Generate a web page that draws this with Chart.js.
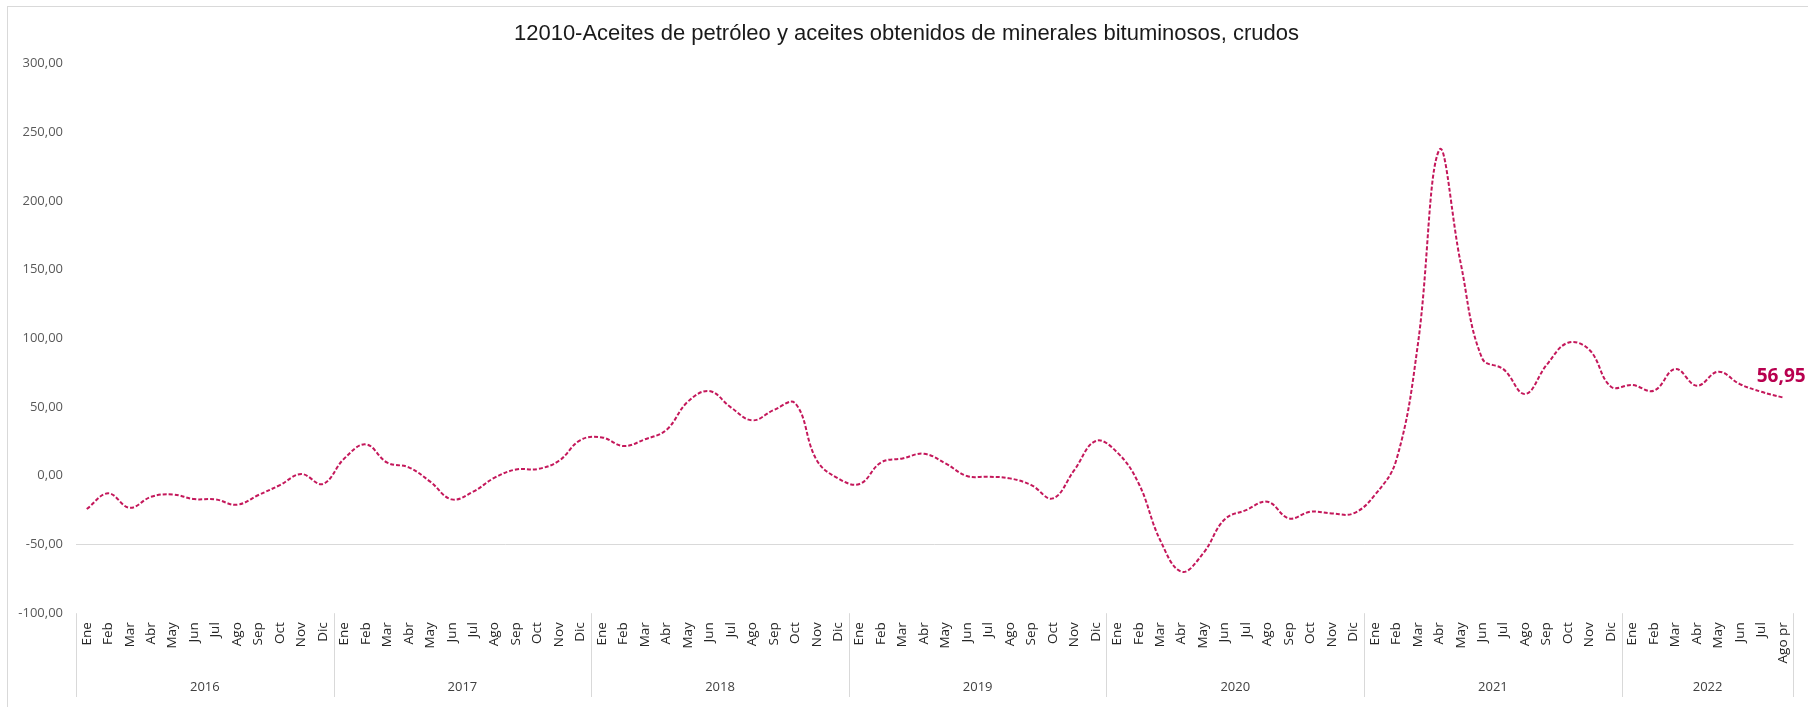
<!DOCTYPE html>
<html>
<head>
<meta charset="utf-8">
<script src="https://cdn.jsdelivr.net/npm/chart.js@4.4.1/dist/chart.umd.min.js"></script>
<style>
  html, body { margin: 0; padding: 0; background: #fff; }
  canvas { display: block; }
</style>
</head>
<body>
<canvas id="myChart" width="1808" height="707"></canvas>
<script>
// data
const months = ["Ene", "Feb", "Mar", "Abr", "May", "Jun", "Jul", "Ago", "Sep", "Oct", "Nov", "Dic"];
const years = ["2016", "2017", "2018", "2019", "2020", "2021", "2022"];
const monthsPerYear = [12, 12, 12, 12, 12, 12, 8];
const lastLabel = "Ago pr";

const values = [
    -24.2, -12.8, -23.3, -15.3, -13.6, -17.0, -17.2, -21.1, -14.0, -6.8, 1.2, -6.0,
    12.6, 22.8, 9.5, 6.1, -4.3, -17.2, -11.6, -1.4, 4.6, 4.9, 10.9, 26.0,
    27.9, 21.6, 26.5, 33.3, 53.9, 61.6, 49.8, 40.3, 47.8, 52.7, 11.4, -1.9,
    -6.0, 9.7, 12.6, 16.0, 9.0, -0.2, -0.7, -1.9, -6.8, -16.5, 4.1, 25.3,
    17.0, -5.6, -46.8, -69.8, -56.5, -31.8, -25.0, -18.9, -31.0, -26.2, -27.4, -27.4,
    -14.0, 11.4, 95.0, 237.0, 154.6, 85.4, 77.4, 59.5, 80.6, 96.8, 91.5, 64.8,
    66.0, 61.9, 77.7, 65.5, 75.7, 66.7, 61.1, 56.95
];

const yMin = -100;
const yMax = 300;
const yStep = 50;

const labels = [];
monthsPerYear.forEach(n => {
    for (let m = 0; m < n; m++) labels.push(months[m]);
});
labels[labels.length - 1] = lastLabel;

function fmt(v) {
    return v.toFixed(2).replace(".", ",");
}

const lineColor = "#C4185B";

const yearGroups = {
    id: "yearGroups",
    afterDraw(chart) {
        const ctx = chart.ctx;
        const xs = chart.scales.x;
        const area = chart.chartArea;
        const bottom = 697;

        function boundary(k) {
            if (k <= 0) return xs.left;
            if (k >= labels.length) return xs.right;
            return (xs.getPixelForValue(k - 1) + xs.getPixelForValue(k)) / 2;
        }

        ctx.save();
        ctx.strokeStyle = "#d9d9d9";
        ctx.lineWidth = 1;
        // outer chart border
        ctx.strokeRect(7.5, 6.5, 1820, 720);

        let start = 0;
        ctx.font = "13px 'Open Sans'";
        ctx.fillStyle = "#404040";
        ctx.textAlign = "center";
        ctx.textBaseline = "middle";
        for (let i = 0; i <= years.length; i++) {
            const x = Math.round(boundary(start)) + 0.5;
            ctx.beginPath();
            ctx.moveTo(x, area.bottom);
            ctx.lineTo(x, bottom);
            ctx.stroke();
            if (i < years.length) {
                const end = start + monthsPerYear[i];
                ctx.fillText(years[i], (boundary(start) + boundary(end)) / 2, 687);
                start = end;
            }
        }

        // label on the last point
        const meta = chart.getDatasetMeta(0);
        const pt = meta.data[meta.data.length - 1];
        ctx.font = "bold 19px 'Open Sans'";
        ctx.fillStyle = "#B8004F";
        ctx.textAlign = "left";
        ctx.fillText(fmt(values[values.length - 1]), pt.x - 26, pt.y - 21);
        ctx.restore();
    }
};

const ctx = document.getElementById("myChart").getContext("2d");
new Chart(ctx, {
    type: "line",
    data: {
        labels: labels,
        datasets: [{
            data: values,
            borderColor: lineColor,
            borderWidth: 2,
            borderDash: [4, 2],
            pointRadius: 0,
            fill: false,
            tension: 0.4
        }]
    },
    options: {
        responsive: false,
        animation: false,
        devicePixelRatio: 1,
        layout: {
            padding: { left: 16, right: 11, top: 0, bottom: 0 }
        },
        plugins: {
            legend: { display: false },
            tooltip: { enabled: false },
            title: {
                display: true,
                text: "12010-Aceites de petróleo y aceites obtenidos de minerales bituminosos, crudos",
                color: "#1a1a1a",
                font: { family: "'Liberation Sans', Arial, sans-serif", size: 22, weight: "normal", lineHeight: 1.2 },
                padding: { top: 21, bottom: 16 }
            }
        },
        scales: {
            x: {
                offset: true,
                grid: { display: false, drawTicks: false },
                border: { display: false },
                ticks: {
                    autoSkip: false,
                    minRotation: 90,
                    maxRotation: 90,
                    padding: 9,
                    color: "#262626",
                    font: { family: "'Open Sans'", size: 13.5 }
                },
                afterFit(scale) { scale.height = 93.8; }
            },
            y: {
                min: yMin,
                max: yMax,
                border: { display: false },
                grid: {
                    drawTicks: false,
                    color: c => (c.tick && c.tick.value === -50 ? "#d9d9d9" : "rgba(0,0,0,0)")
                },
                ticks: {
                    stepSize: yStep,
                    padding: 13,
                    color: "#595959",
                    font: { family: "'Open Sans'", size: 13 },
                    callback: v => fmt(v)
                },
                afterFit(scale) { scale.width = 60; }
            }
        }
    },
    plugins: [yearGroups]
});
</script>
</body>
</html>
